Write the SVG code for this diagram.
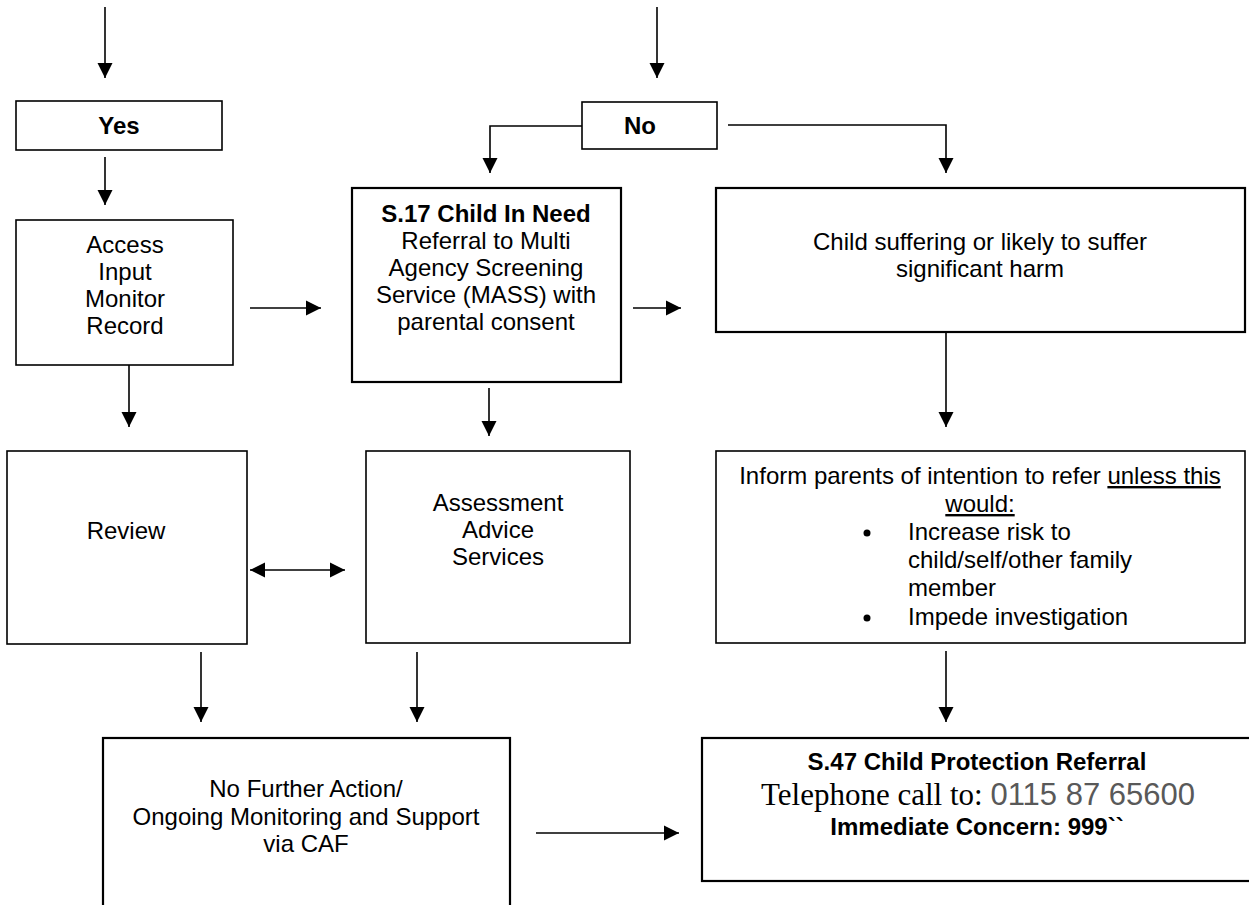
<svg xmlns="http://www.w3.org/2000/svg" width="1249" height="905" viewBox="0 0 1249 905">
<defs>
<marker id="ah" markerUnits="userSpaceOnUse" markerWidth="16" markerHeight="16" refX="15" refY="7.5" orient="auto-start-reverse" viewBox="0 0 16 15">
<path d="M0,0 L15,7.5 L0,15 z" fill="#000"/>
</marker>
<style>
.box{fill:#fff;stroke:#000;stroke-width:1.6}
.bx2{fill:#fff;stroke:#000;stroke-width:2.2}
.t{font-family:"Liberation Sans",Arial,sans-serif;font-size:24px;fill:#000;text-anchor:middle}
.b{font-family:"Liberation Sans",Arial,sans-serif;font-size:24px;font-weight:bold;fill:#000;text-anchor:middle}
.tl{font-family:"Liberation Sans",Arial,sans-serif;font-size:24px;fill:#000}
.a{fill:none;stroke:#000;stroke-width:1.6;marker-end:url(#ah)}
</style>
</defs>
<rect width="1249" height="905" fill="#fff"/>
<g id="connectors">
<path class="a" d="M105,7 V78"/>
<path class="a" d="M657,7 V78"/>
<path class="a" d="M105,157 V205"/>
<path class="a" d="M250,308 H321"/>
<path class="a" d="M582,126 H490 V173"/>
<path class="a" d="M728,125 H946 V173"/>
<path class="a" d="M633,308 H681"/>
<path class="a" d="M129,358 V427"/>
<path class="a" d="M489,388 V436"/>
<path class="a" d="M946,332 V427"/>
<path class="a" d="M250,570 H345" marker-start="url(#ah)"/>
<path class="a" d="M201,652 V722"/>
<path class="a" d="M417,652 V722"/>
<path class="a" d="M946,651 V722"/>
<path class="a" d="M536,833 H679"/>
</g>
<g id="yes">
<rect class="box" x="16" y="101" width="206" height="49"/>
<text class="b" x="119" y="134">Yes</text>
</g>
<g id="no">
<rect class="box" x="582" y="102" width="135" height="47"/>
<text class="b" x="640" y="134">No</text>
</g>
<g id="access">
<rect class="box" x="16" y="220" width="217" height="145"/>
<text class="t" x="125" y="253">Access</text>
<text class="t" x="125" y="280">Input</text>
<text class="t" x="125" y="307">Monitor</text>
<text class="t" x="125" y="334">Record</text>
</g>
<g id="s17">
<rect class="bx2" x="352" y="188" width="269" height="194"/>
<text class="b" x="486" y="222">S.17 Child In Need</text>
<text class="t" x="486" y="249">Referral to Multi</text>
<text class="t" x="486" y="276">Agency Screening</text>
<text class="t" x="486" y="303">Service (MASS) with</text>
<text class="t" x="486" y="330">parental consent</text>
</g>
<g id="harm">
<rect class="bx2" x="716" y="188" width="529" height="144"/>
<text class="t" x="980" y="250">Child suffering or likely to suffer</text>
<text class="t" x="980" y="277">significant harm</text>
</g>
<g id="review">
<rect class="box" x="7" y="451" width="240" height="193"/>
<text class="t" x="126" y="539">Review</text>
</g>
<g id="assessment">
<rect class="box" x="366" y="451" width="264" height="192"/>
<text class="t" x="498" y="511">Assessment</text>
<text class="t" x="498" y="538">Advice</text>
<text class="t" x="498" y="565">Services</text>
</g>
<g id="inform">
<rect class="box" x="716" y="451" width="529" height="192"/>
<text class="t" x="980" y="484">Inform parents of intention to refer <tspan text-decoration="underline">unless this</tspan></text>
<text class="t" x="980" y="512" text-decoration="underline">would:</text>
<circle cx="867" cy="533" r="3.5" fill="#000"/>
<circle cx="867" cy="618" r="3.5" fill="#000"/>
<text class="tl" x="908" y="540">Increase risk to</text>
<text class="tl" x="908" y="568">child/self/other family</text>
<text class="tl" x="908" y="596">member</text>
<text class="tl" x="908" y="625">Impede investigation</text>
</g>
<g id="nfa">
<rect class="bx2" x="103" y="738" width="407" height="180"/>
<text class="t" x="306" y="797">No Further Action/</text>
<text class="t" x="306" y="825">Ongoing Monitoring and Support</text>
<text class="t" x="306" y="852">via CAF</text>
</g>
<g id="s47">
<rect class="bx2" x="702" y="738" width="552" height="143"/>
<text class="b" x="977" y="770">S.47 Child Protection Referral</text>
<text x="978" y="805" text-anchor="middle" font-size="31"><tspan font-family="'Liberation Serif','Times New Roman',serif" fill="#000">Telephone call to: </tspan><tspan font-family="'Liberation Sans',Arial,sans-serif" fill="#595959">0115 87 65600</tspan></text>
<text class="b" x="977" y="835">Immediate Concern: 999``</text>
</g>
</svg>
